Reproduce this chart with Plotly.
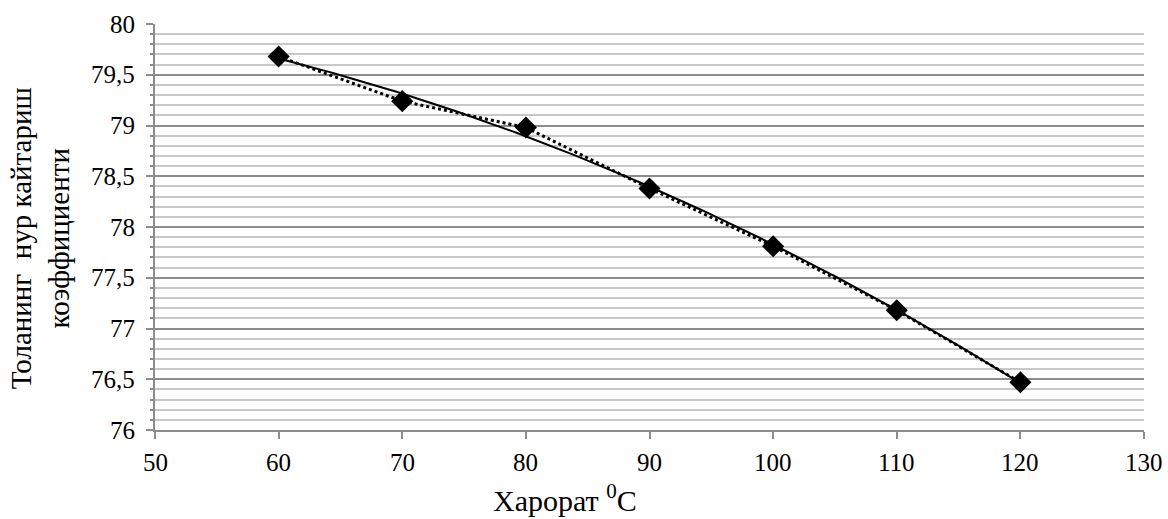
import numpy as np
import plotly.graph_objects as go

temps = [60, 70, 80, 90, 100, 110, 120]
coef = [79.68, 79.24, 78.98, 78.38, 77.81, 77.18, 76.47]
x_ticks = [50, 60, 70, 80, 90, 100, 110, 120, 130]
y_ticks = [76, 76.5, 77, 77.5, 78, 78.5, 79, 79.5, 80]
y_tick_labels = ["76", "76,5", "77", "77,5", "78", "78,5", "79", "79,5", "80"]

# polynomial (2nd order) trendline, as in the source spreadsheet
p = np.polyfit(temps, coef, 2)
xt = np.linspace(min(temps), max(temps), 200)
yt = np.polyval(p, xt)

# minor gridlines every 0.1 between the major ones
minor_vals = [round(76 + 0.1 * i, 1) for i in range(41) if i % 5 != 0]

FONT = "Liberation Serif"
TICK_SIZE = 25

fig = go.Figure()
fig.add_trace(go.Scatter(x=xt, y=yt, mode="lines",
                         line=dict(color="black", width=2), hoverinfo="skip"))
fig.add_trace(go.Scatter(x=temps, y=coef, mode="lines+markers",
                         line=dict(color="black", width=3, dash="dot"),
                         marker=dict(symbol="diamond", size=17, color="black")))
fig.add_trace(go.Scatter(x=[None], y=[None], yaxis="y2", showlegend=False,
                         hoverinfo="skip"))

fig.update_layout(
    width=1168, height=519,
    margin=dict(l=155, r=24, t=24, b=89),
    paper_bgcolor="white", plot_bgcolor="white",
    showlegend=False,
    font=dict(family=FONT, color="black", size=TICK_SIZE),
    xaxis=dict(range=[50, 130], tickvals=x_ticks, showticklabels=False,
               ticks="outside", ticklen=7,
               tickcolor="#8c8c8c", tickwidth=2, showgrid=False, zeroline=False,
               showline=True, linecolor="#8c8c8c", linewidth=2),
    yaxis=dict(range=[76, 80], tickvals=y_ticks, showticklabels=False,
               ticks="outside", ticklen=7, tickcolor="#8c8c8c", tickwidth=2,
               showgrid=True, gridcolor="#8c8c8c", gridwidth=2,
               zeroline=False, showline=True, linecolor="#8c8c8c", linewidth=2),
    yaxis2=dict(range=[76, 80], overlaying="y", side="left", tickvals=minor_vals,
                showticklabels=False, ticks="outside", ticklen=4, tickwidth=2,
                tickcolor="#8c8c8c", showgrid=True, gridcolor="#c8c8c8",
                gridwidth=2, zeroline=False, showline=False),
)

# tick labels (placed on the axes' own scales)
for v in x_ticks:
    fig.add_annotation(text=str(v), x=v, xref="x", y=-0.079, yref="paper",
                       xanchor="center", yanchor="middle", showarrow=False,
                       font=dict(family=FONT, size=TICK_SIZE, color="black"))
for v, s in zip(y_ticks, y_tick_labels):
    fig.add_annotation(text=s, x=-0.018, xref="paper", y=v, yref="y",
                       xanchor="right", yanchor="middle", showarrow=False,
                       font=dict(family=FONT, size=TICK_SIZE, color="black"))

fig.add_annotation(text="Харорат <sup>0</sup>C", xref="paper", yref="paper",
                   x=(565 - 155) / (1168 - 155 - 24), y=-0.167, yanchor="middle",
                   showarrow=False, font=dict(family=FONT, size=30, color="black"))
fig.add_annotation(text="Толанинг  нур кайтариш<br>коэффициенти", xref="paper", yref="paper",
                   x=-0.116, xanchor="center", y=0.473, yanchor="middle", textangle=-90,
                   showarrow=False, font=dict(family=FONT, size=29, color="black"))

fig.write_html("out.html")
